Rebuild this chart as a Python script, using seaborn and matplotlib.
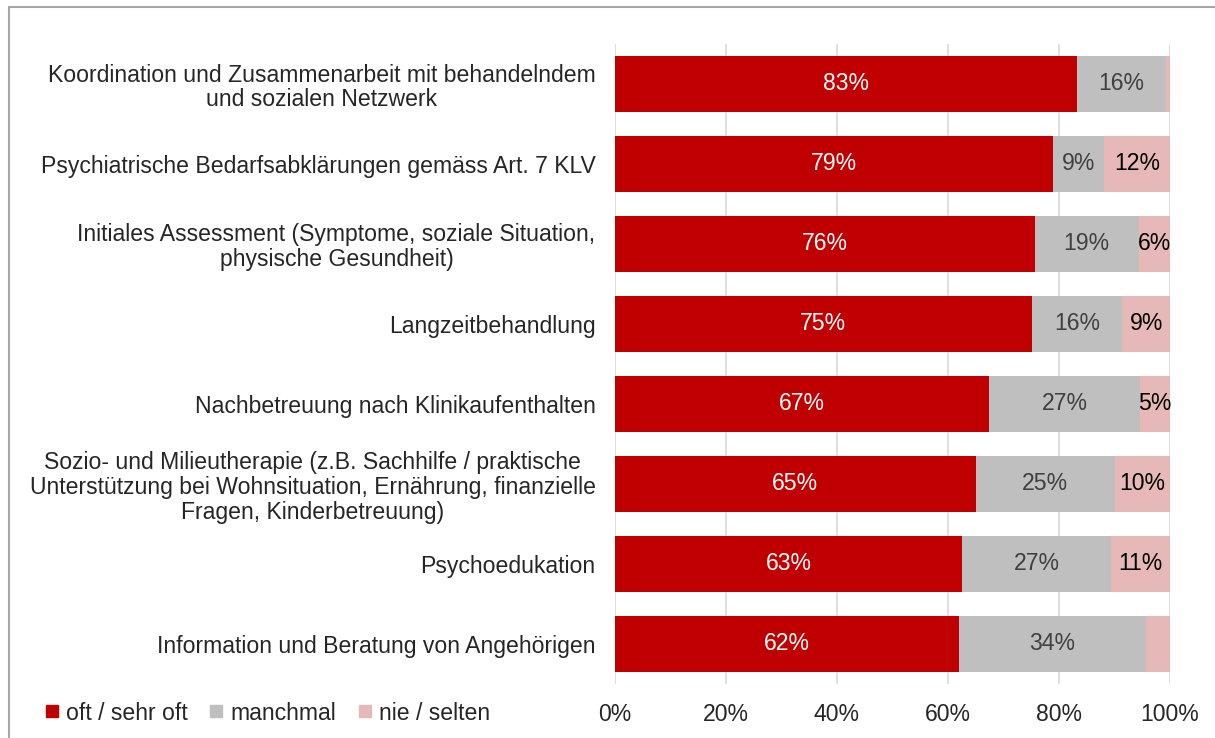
import matplotlib
matplotlib.use("Agg")
import matplotlib.pyplot as plt
from matplotlib.patches import Rectangle
from matplotlib.lines import Line2D
import seaborn as sns
import pandas as pd
import numpy as np

categories = [
    "Koordination und Zusammenarbeit mit behandelndem\nund sozialen Netzwerk",
    "Psychiatrische Bedarfsabklärungen gemäss Art. 7 KLV",
    "Initiales Assessment (Symptome, soziale Situation,\nphysische Gesundheit)",
    "Langzeitbehandlung",
    "Nachbetreuung nach Klinikaufenthalten",
    "Sozio- und Milieutherapie (z.B. Sachhilfe / praktische\nUnterstützung bei Wohnsituation, Ernährung, finanzielle\nFragen, Kinderbetreuung)",
    "Psychoedukation",
    "Information und Beratung von Angehörigen",
]
oft = [83.2, 78.9, 75.6, 75.1, 67.4, 65.0, 62.6, 62.0]
manchmal = [16.0, 9.2, 18.8, 16.3, 27.2, 25.1, 26.8, 33.6]
nie = [0.8, 11.9, 5.6, 8.6, 5.4, 9.9, 10.6, 4.4]
series_names = ["oft / sehr oft", "manchmal", "nie / selten"]
x_ticks = [0, 20, 40, 60, 80, 100]

colors = ["#C00000", "#BFBFBF", "#E6B9B8"]
label_colors = ["white", "#404040", "black"]

sns.set_style("white")
plt.rcParams["font.family"] = ["Liberation Sans", "DejaVu Sans"]
FS = 16.6

df = pd.DataFrame({"cat": categories, "oft": oft, "manchmal": manchmal, "nie": nie})
df["c1"] = df["oft"]
df["c2"] = df["oft"] + df["manchmal"]
df["c3"] = df["c2"] + df["nie"]

fig = plt.figure(figsize=(12.15, 7.38), dpi=100)
ax = fig.add_axes([615 / 1215, 1 - 684 / 738, 555 / 1215, 640 / 738])

# stacked by drawing cumulative totals back to front
for col, color in zip(["c3", "c2", "c1"], colors[::-1]):
    sns.barplot(data=df, x=col, y="cat", orient="h", color=color,
                width=0.71, ax=ax, linewidth=0, saturation=1)

# value labels centred in each segment
seg_cols = ["oft", "manchmal", "nie"]
for i in range(len(categories)):
    left = 0
    for s, col in enumerate(seg_cols):
        v = df.loc[i, col]
        if v >= 5:
            ax.text(left + v / 2, i, f"{v:.0f}%", ha="center", va="center",
                    fontsize=FS, color=label_colors[s])
        left += v

ax.set_xlim(0, 100)
ax.set_ylim(len(categories) - 0.5, -0.5)
ax.set_xticks(x_ticks)
ax.set_xticklabels([f"{t}%" for t in x_ticks], fontsize=FS)
ax.tick_params(axis="x", length=0, pad=14)
ax.tick_params(axis="y", length=0, pad=14)
ax.set_yticklabels(categories, fontsize=FS, multialignment="center", linespacing=1.1)
ax.set_xlabel("")
ax.set_ylabel("")
ax.xaxis.grid(True, color="#D9D9D9", linewidth=1.2)
ax.set_axisbelow(True)
for sp in ax.spines.values():
    sp.set_visible(False)

handles = [Line2D([0], [0], marker="s", linestyle="", markersize=9,
                  markerfacecolor=c, markeredgecolor=c) for c in colors]
fig.legend(handles, series_names, loc="center left", bbox_to_anchor=(22 / 1215, 1 - 713 / 738),
           ncol=3, frameon=False, fontsize=FS, handletextpad=0.2, columnspacing=0.85,
           handlelength=0.8)

# outer chart frame
fig.patches.append(Rectangle((9 / 1215, -0.05), 1.1, 1 - 7 / 738 + 0.05, transform=fig.transFigure,
                             fill=False, edgecolor="#A6A6A6", linewidth=1.5))

fig.savefig("out.png", dpi=100, facecolor="white")
